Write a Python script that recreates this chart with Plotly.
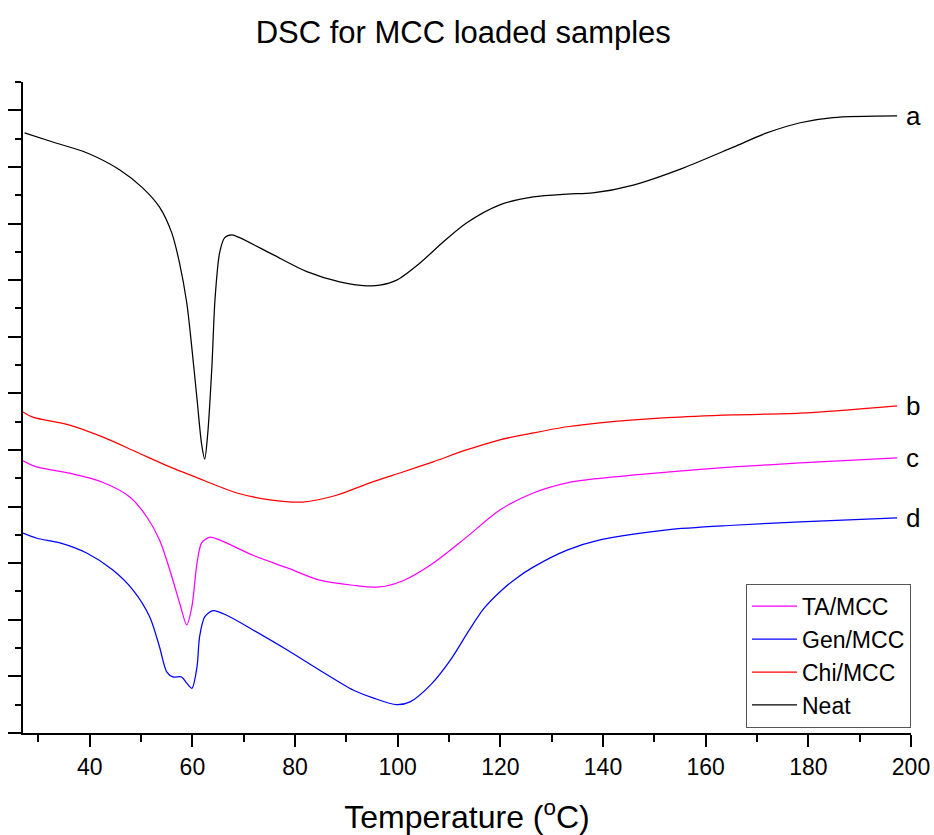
import plotly.graph_objects as go

# ---- Data ----
neat_x = [27.3, 32.8, 39.4, 45.8, 50.3, 53.6, 56.0, 57.5, 58.9, 59.9, 60.9, 61.8, 62.4, 63.0, 63.8,
          64.4, 65.3, 66.3, 67.7, 69.2, 75.7, 82.3, 88.7, 94.0, 96.5, 99.8, 104.3, 108.8, 113.4,
          119.9, 126.4, 133.0, 138.0, 145.9, 155.6, 165.4, 171.9, 178.4, 184.8, 197.3]
neat_y = [10.6, 10.44, 10.25, 9.95, 9.63, 9.29, 8.83, 8.3, 7.6, 6.8, 5.9, 5.1, 4.84, 5.3, 6.47,
          7.65, 8.48, 8.75, 8.8, 8.75, 8.45, 8.15, 7.97, 7.9, 7.91, 8.0, 8.3, 8.67, 9.01,
          9.33, 9.47, 9.52, 9.54, 9.68, 9.98, 10.35, 10.6, 10.78, 10.87, 10.9]

chi_x = [27.0, 28.9, 36.1, 42.5, 49.2, 55.6, 62.0, 68.7, 75.1, 81.5, 88.1, 94.6, 101.0, 106.9,
         113.4, 119.9, 126.4, 133.0, 139.4, 152.5, 165.4, 178.4, 197.3]
chi_y = [5.67, 5.58, 5.44, 5.23, 4.96, 4.7, 4.47, 4.24, 4.12, 4.08, 4.2, 4.42, 4.61, 4.79,
         5.0, 5.18, 5.3, 5.41, 5.48, 5.57, 5.62, 5.65, 5.78]

ta_x = [27.0, 29.7, 36.1, 42.5, 47.8, 51.1, 53.6, 55.6, 57.5, 58.9, 59.9, 60.9, 61.8, 63.4, 65.3,
        71.8, 78.4, 84.8, 91.3, 96.5, 101.0, 106.9, 113.4, 119.9, 126.4, 133.0, 139.4, 152.5,
        165.4, 178.4, 197.3]
ta_y = [4.81, 4.7, 4.59, 4.43, 4.17, 3.82, 3.41, 2.88, 2.3, 1.91, 2.23, 3.0, 3.36, 3.46, 3.41,
        3.14, 2.92, 2.7, 2.61, 2.58, 2.69, 3.0, 3.46, 3.94, 4.24, 4.42, 4.5, 4.61,
        4.7, 4.77, 4.86]

gen_x = [27.0, 29.7, 34.2, 39.4, 44.5, 48.4, 51.7, 53.6, 55.0, 56.2, 57.9, 58.9, 59.9, 60.9, 61.4,
         62.4, 64.0, 66.7, 71.8, 78.4, 84.8, 91.3, 95.2, 99.8, 102.4, 106.5, 110.5, 113.8, 116.8,
         120.0, 123.2, 126.4, 133.0, 139.4, 152.5, 165.4, 178.4, 197.3]
gen_y = [3.53, 3.44, 3.36, 3.18, 2.88, 2.53, 2.05, 1.52, 1.08, 0.99, 0.99, 0.88, 0.79, 1.17, 1.7,
         2.05, 2.16, 2.08, 1.82, 1.47, 1.11, 0.76, 0.62, 0.5, 0.55, 0.86, 1.32, 1.8, 2.2,
         2.5, 2.74, 2.93, 3.23, 3.41, 3.59, 3.67, 3.73, 3.8]

curve_labels = ["a", "b", "c", "d"]
x_ticks = [40, 60, 80, 100, 120, 140, 160, 180, 200]

FONT = "Arial, Liberation Sans, sans-serif"

fig = go.Figure()
series = [
    ("TA/MCC", ta_x, ta_y, "#FF00FF"),
    ("Gen/MCC", gen_x, gen_y, "#0000FF"),
    ("Chi/MCC", chi_x, chi_y, "#FF0000"),
    ("Neat", neat_x, neat_y, "#000000"),
]
for name, xs, ys, col in series:
    fig.add_trace(go.Scatter(x=xs, y=ys, mode="lines", name=name,
                             line=dict(color=col, width=1.25, shape="spline", smoothing=0.8)))

# curve letter labels at the right end
ends = [(neat_x[-1], neat_y[-1]), (chi_x[-1], chi_y[-1]), (ta_x[-1], ta_y[-1]), (gen_x[-1], gen_y[-1])]
for lab, (ex, ey) in zip(curve_labels, ends):
    fig.add_annotation(x=198.6, y=ey, text=lab, showarrow=False, xanchor="left", yanchor="middle",
                       font=dict(family=FONT, size=26, color="black"))

fig.update_layout(
    width=934, height=835,
    margin=dict(l=23, r=23, t=82, b=102, autoexpand=False),
    paper_bgcolor="white", plot_bgcolor="white",
    title=dict(text="DSC for MCC loaded samples", x=0.496, xanchor="center",
               y=1 - 32 / 835, yanchor="middle", yref="container",
               font=dict(family=FONT, size=31, color="black")),
    showlegend=True,
    legend=dict(x=1.0, y=0.008, xanchor="right", yanchor="bottom",
                bordercolor="#555555", borderwidth=1, bgcolor="white",
                font=dict(family=FONT, size=23, color="black"),
                tracegroupgap=0, itemwidth=45),
    font=dict(family=FONT, color="black"),
)

fig.update_xaxes(
    range=[27, 200], tickmode="array", tickvals=x_ticks, ticktext=[str(v) for v in x_ticks],
    showgrid=False, zeroline=False, showline=True, linecolor="black", linewidth=2,
    ticks="outside", ticklen=12, tickwidth=2, tickcolor="black", automargin=False,
    tickfont=dict(family=FONT, size=23, color="black"),
    minor=dict(tickmode="array", tickvals=[30, 50, 70, 90, 110, 130, 150, 170, 190],
               ticks="outside", ticklen=7, tickwidth=2, tickcolor="black", showgrid=False),
    title=dict(text="Temperature (<sup>o</sup>C)", font=dict(family=FONT, size=32, color="black"),
               standoff=28),
)
fig.update_yaxes(
    range=[0, 11.5], dtick=1, tick0=0, showticklabels=False, automargin=False,
    showgrid=False, zeroline=False, showline=True, linecolor="black", linewidth=2,
    ticks="outside", ticklen=13, tickwidth=2, tickcolor="black",
    minor=dict(dtick=0.5, ticks="outside", ticklen=6, tickwidth=2, tickcolor="black", showgrid=False),
)

fig.write_html("out.html")
